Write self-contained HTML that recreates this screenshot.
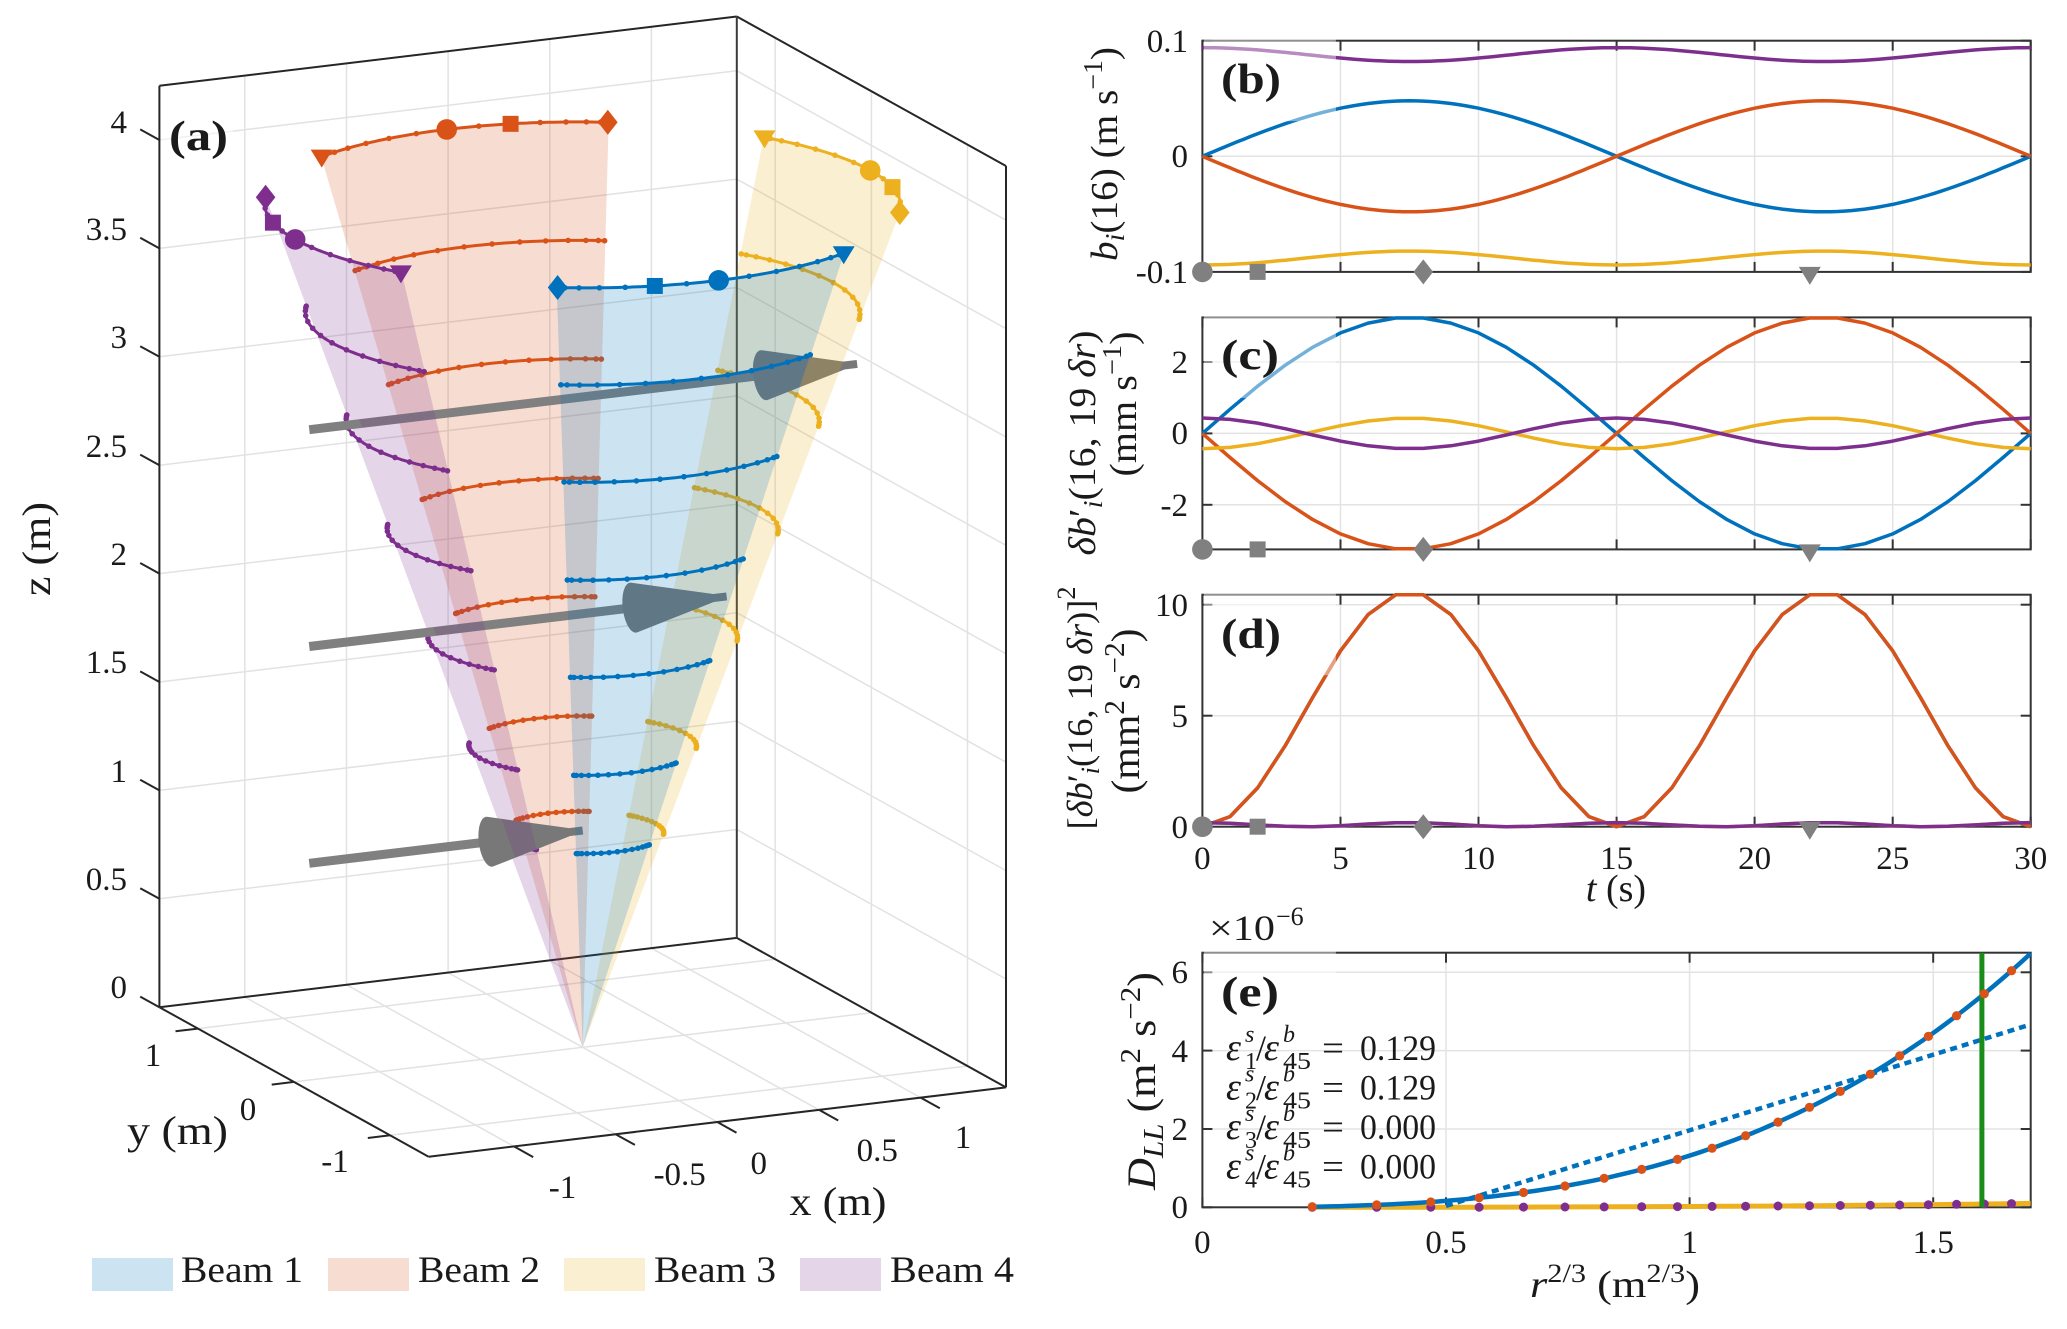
<!DOCTYPE html>
<html><head><meta charset="utf-8">
<style>
html,body{margin:0;padding:0;background:#fff;}
svg{display:block;}
text{font-family:"Liberation Serif",serif;fill:#1a1a1a;}
.tk{font-size:33px;}
.lb{font-size:40px;}
.pl{font-size:42px;font-weight:bold;}
</style></head>
<body>
<svg id="s" xmlns="http://www.w3.org/2000/svg" width="2067" height="1329" viewBox="0 0 2067 1329">
<rect width="2067" height="1329" fill="#fff"/>
<g id="ga"></g>
<g id="gp"></g>
<g id="gt">
<rect x="161" y="87" width="72" height="90" fill="#fff" fill-opacity="0.5"/>
<text class="pl" x="169" y="150" textLength="59" lengthAdjust="spacingAndGlyphs">(a)</text>
<text class="tk" x="127" y="133" text-anchor="end">4</text>
<text class="tk" x="127" y="240" text-anchor="end">3.5</text>
<text class="tk" x="127" y="348" text-anchor="end">3</text>
<text class="tk" x="127" y="457" text-anchor="end">2.5</text>
<text class="tk" x="127" y="565" text-anchor="end">2</text>
<text class="tk" x="127" y="673" text-anchor="end">1.5</text>
<text class="tk" x="127" y="782" text-anchor="end">1</text>
<text class="tk" x="127" y="890" text-anchor="end">0.5</text>
<text class="tk" x="127" y="998" text-anchor="end">0</text>
<text class="lb" transform="translate(37,549) rotate(-90)" y="13" text-anchor="middle" textLength="94" lengthAdjust="spacingAndGlyphs">z (m)</text>
<text class="tk" x="153" y="1066" text-anchor="middle">1</text>
<text class="tk" x="248" y="1120" text-anchor="middle">0</text>
<text class="tk" x="335" y="1172" text-anchor="middle">-1</text>
<text class="lb" x="177.5" y="1144" text-anchor="middle" textLength="101" lengthAdjust="spacingAndGlyphs">y (m)</text>
<text class="tk" x="562.5" y="1198" text-anchor="middle">-1</text>
<text class="tk" x="679.7" y="1185" text-anchor="middle">-0.5</text>
<text class="tk" x="758.8" y="1174" text-anchor="middle">0</text>
<text class="tk" x="877.3" y="1161" text-anchor="middle">0.5</text>
<text class="tk" x="963" y="1148" text-anchor="middle">1</text>
<text class="lb" x="838" y="1215" text-anchor="middle" textLength="97" lengthAdjust="spacingAndGlyphs">x (m)</text>
<rect x="92" y="1258" width="81" height="33" fill="#cce3f2"/>
<text x="181" y="1282" font-size="37" textLength="122" lengthAdjust="spacingAndGlyphs">Beam 1</text>
<rect x="328" y="1258" width="81" height="33" fill="#f7ddd1"/>
<text x="418" y="1282" font-size="37" textLength="122" lengthAdjust="spacingAndGlyphs">Beam 2</text>
<rect x="564" y="1258" width="81" height="33" fill="#fbefd2"/>
<text x="654" y="1282" font-size="37" textLength="122" lengthAdjust="spacingAndGlyphs">Beam 3</text>
<rect x="800" y="1258" width="81" height="33" fill="#e5d5e8"/>
<text x="890" y="1282" font-size="37" textLength="124" lengthAdjust="spacingAndGlyphs">Beam 4</text>

<text class="tk" x="1188" y="52" text-anchor="end">0.1</text>
<text class="tk" x="1188" y="167" text-anchor="end">0</text>
<text class="tk" x="1188" y="283" text-anchor="end">-0.1</text>
<text font-size="38" transform="translate(1105,154) rotate(-90)" y="12" text-anchor="middle" textLength="214" lengthAdjust="spacingAndGlyphs"><tspan font-style="italic">b</tspan><tspan font-style="italic" font-size="27" dy="7">i</tspan><tspan dy="-7">(16) (m s</tspan><tspan font-size="27" dy="-15">−1</tspan><tspan dy="15">)</tspan></text>

<text class="tk" x="1188" y="373" text-anchor="end">2</text>
<text class="tk" x="1188" y="444" text-anchor="end">0</text>
<text class="tk" x="1188" y="516" text-anchor="end">-2</text>
<text font-size="38" transform="translate(1083,443) rotate(-90)" y="12" text-anchor="middle" textLength="225" lengthAdjust="spacingAndGlyphs"><tspan font-style="italic">δb</tspan><tspan>′</tspan><tspan font-style="italic" font-size="27" dy="7">i</tspan><tspan dy="-7">(16, 19 </tspan><tspan font-style="italic">δr</tspan><tspan>)</tspan></text>
<text font-size="38" transform="translate(1124,404) rotate(-90)" y="12" text-anchor="middle" textLength="145" lengthAdjust="spacingAndGlyphs">(mm s<tspan font-size="27" dy="-15">−1</tspan><tspan dy="15">)</tspan></text>

<text class="tk" x="1188" y="616" text-anchor="end">10</text>
<text class="tk" x="1188" y="727" text-anchor="end">5</text>
<text class="tk" x="1188" y="838" text-anchor="end">0</text>
<text font-size="36" transform="translate(1080,708) rotate(-90)" y="12" text-anchor="middle" textLength="243" lengthAdjust="spacingAndGlyphs"><tspan>[</tspan><tspan font-style="italic">δb</tspan><tspan>′</tspan><tspan font-style="italic" font-size="26" dy="7">i</tspan><tspan dy="-7">(16, 19 </tspan><tspan font-style="italic">δr</tspan><tspan>)]</tspan><tspan font-size="26" dy="-17">2</tspan></text>
<text font-size="40" transform="translate(1127,711) rotate(-90)" y="12" text-anchor="middle" textLength="165" lengthAdjust="spacingAndGlyphs">(mm<tspan font-size="28" dy="-15">2</tspan><tspan dy="15"> s</tspan><tspan font-size="28" dy="-15">−2</tspan><tspan dy="15">)</tspan></text>
<text class="tk" x="1202.4" y="869" text-anchor="middle">0</text>
<text class="tk" x="1340.5" y="869" text-anchor="middle">5</text>
<text class="tk" x="1478.5" y="869" text-anchor="middle">10</text>
<text class="tk" x="1616.6" y="869" text-anchor="middle">15</text>
<text class="tk" x="1754.6" y="869" text-anchor="middle">20</text>
<text class="tk" x="1892.7" y="869" text-anchor="middle">25</text>
<text class="tk" x="2030.7" y="869" text-anchor="middle">30</text>
<text x="1616" y="901" font-size="38" text-anchor="middle"><tspan font-style="italic">t</tspan> (s)</text>

<text x="1209" y="940" font-size="36" textLength="66" lengthAdjust="spacingAndGlyphs">×10</text>
<text x="1276" y="925" font-size="26">−6</text>
<text class="tk" x="1188" y="983" text-anchor="end">6</text>
<text class="tk" x="1188" y="1062" text-anchor="end">4</text>
<text class="tk" x="1188" y="1140" text-anchor="end">2</text>
<text class="tk" x="1188" y="1218" text-anchor="end">0</text>
<text class="tk" x="1202.4" y="1253" text-anchor="middle">0</text>
<text class="tk" x="1446" y="1253" text-anchor="middle">0.5</text>
<text class="tk" x="1689.6" y="1253" text-anchor="middle">1</text>
<text class="tk" x="1933.2" y="1253" text-anchor="middle">1.5</text>
<text x="1530" y="1297" font-size="38" textLength="170" lengthAdjust="spacingAndGlyphs"><tspan font-style="italic">r</tspan><tspan font-size="26" dy="-15">2/3</tspan><tspan dy="15"> (m</tspan><tspan font-size="26" dy="-15">2/3</tspan><tspan dy="15">)</tspan></text>
<text font-size="40" transform="translate(1142,1081) rotate(-90)" y="13" text-anchor="middle" textLength="218" lengthAdjust="spacingAndGlyphs"><tspan font-style="italic">D</tspan><tspan font-style="italic" font-size="28" dy="8">LL</tspan><tspan dy="-8"> (m</tspan><tspan font-size="28" dy="-15">2</tspan><tspan dy="15"> s</tspan><tspan font-size="28" dy="-15">−2</tspan><tspan dy="15">)</tspan></text>

<g font-size="36">
<text x="1226" y="1060" font-style="italic" font-size="38">ε</text><text x="1245" y="1042" font-size="24" font-style="italic">s</text><text x="1245" y="1069" font-size="24">1</text><text x="1256" y="1060">/</text><text x="1264" y="1060" font-style="italic" font-size="38">ε</text><text x="1283" y="1042" font-size="24" font-style="italic">b</text><text x="1283" y="1069" font-size="24" textLength="28" lengthAdjust="spacingAndGlyphs">45</text><text x="1322" y="1060" textLength="22" lengthAdjust="spacingAndGlyphs">=</text><text x="1360" y="1060" textLength="76" lengthAdjust="spacingAndGlyphs">0.129</text>
<text x="1226" y="1099.5" font-style="italic" font-size="38">ε</text><text x="1245" y="1081.5" font-size="24" font-style="italic">s</text><text x="1245" y="1108.5" font-size="24">2</text><text x="1256" y="1099.5">/</text><text x="1264" y="1099.5" font-style="italic" font-size="38">ε</text><text x="1283" y="1081.5" font-size="24" font-style="italic">b</text><text x="1283" y="1108.5" font-size="24" textLength="28" lengthAdjust="spacingAndGlyphs">45</text><text x="1322" y="1099.5" textLength="22" lengthAdjust="spacingAndGlyphs">=</text><text x="1360" y="1099.5" textLength="76" lengthAdjust="spacingAndGlyphs">0.129</text>
<text x="1226" y="1139" font-style="italic" font-size="38">ε</text><text x="1245" y="1121" font-size="24" font-style="italic">s</text><text x="1245" y="1148" font-size="24">3</text><text x="1256" y="1139">/</text><text x="1264" y="1139" font-style="italic" font-size="38">ε</text><text x="1283" y="1121" font-size="24" font-style="italic">b</text><text x="1283" y="1148" font-size="24" textLength="28" lengthAdjust="spacingAndGlyphs">45</text><text x="1322" y="1139" textLength="22" lengthAdjust="spacingAndGlyphs">=</text><text x="1360" y="1139" textLength="76" lengthAdjust="spacingAndGlyphs">0.000</text>
<text x="1226" y="1178.5" font-style="italic" font-size="38">ε</text><text x="1245" y="1160.5" font-size="24" font-style="italic">s</text><text x="1245" y="1187.5" font-size="24">4</text><text x="1256" y="1178.5">/</text><text x="1264" y="1178.5" font-style="italic" font-size="38">ε</text><text x="1283" y="1160.5" font-size="24" font-style="italic">b</text><text x="1283" y="1187.5" font-size="24" textLength="28" lengthAdjust="spacingAndGlyphs">45</text><text x="1322" y="1178.5" textLength="22" lengthAdjust="spacingAndGlyphs">=</text><text x="1360" y="1178.5" textLength="76" lengthAdjust="spacingAndGlyphs">0.000</text>
</g>
</g>
<g id="glab">
<text class="pl" x="1221" y="93" textLength="60" lengthAdjust="spacingAndGlyphs">(b)</text>
<text class="pl" x="1221" y="369" textLength="58" lengthAdjust="spacingAndGlyphs">(c)</text>
<text class="pl" x="1221" y="648" textLength="60" lengthAdjust="spacingAndGlyphs">(d)</text>
<text class="pl" x="1221" y="1006" textLength="58" lengthAdjust="spacingAndGlyphs">(e)</text>
</g>
</svg>
<script>
(function(){
const NS='http://www.w3.org/2000/svg';
function el(p,tag,a){const e=document.createElementNS(NS,tag);for(const k in a)e.setAttribute(k,a[k]);p.appendChild(e);return e;}
function pts(arr){return arr.map(p=>p[0].toFixed(1)+','+p[1].toFixed(1)).join(' ');}
function L(g,a,b,c,w){return el(g,'line',{x1:a[0].toFixed(1),y1:a[1].toFixed(1),x2:b[0].toFixed(1),y2:b[1].toFixed(1),stroke:c,'stroke-width':w});}
function PL(g,arr,a){a.points=pts(arr);a.fill=a.fill||'none';return el(g,'polyline',a);}
function PG(g,arr,a){a.points=pts(arr);return el(g,'polygon',a);}
function hull(P0){const p=P0.slice().sort((a,b)=>a[0]-b[0]||a[1]-b[1]);const cr=(o,a,b)=>(a[0]-o[0])*(b[1]-o[1])-(a[1]-o[1])*(b[0]-o[0]);const lo=[];for(const q of p){while(lo.length>=2&&cr(lo[lo.length-2],lo[lo.length-1],q)<=0)lo.pop();lo.push(q);}const up=[];for(let i=p.length-1;i>=0;i--){const q=p[i];while(up.length>=2&&cr(up[up.length-2],up[up.length-1],q)<=0)up.pop();up.push(q);}up.pop();lo.pop();return lo.concat(up);}
function marker(g,type,x,y,c){
  if(type==='o')el(g,'circle',{cx:x,cy:y,r:10.3,fill:c});
  else if(type==='s')el(g,'rect',{x:x-8,y:y-8,width:16,height:16,fill:c});
  else if(type==='d')PG(g,[[x,y-12.5],[x+9.8,y],[x,y+12.5],[x-9.8,y]],{fill:c});
  else if(type==='v')PG(g,[[x-11,y-7],[x+11,y-7],[x,y+11]],{fill:c});
}
const cols=['#0072BD','#D95319','#EDB120','#7E2F8E'];

const gA=document.getElementById('ga');
const O=[582.7,1047.3],EX=[203.3,-24.4],EY=[-96.14,-53.36],EZ=[0,-216.8];
function P(x,y,z){return [O[0]+x*EX[0]+y*EY[0]+z*EZ[0],O[1]+x*EX[1]+y*EY[1]+z*EZ[1]];}
const XM=1.42,YM=1.4,ZM=4.25;
const gc='#e2e2e2';
for(let k=1;k<=8;k++){const z=k*0.5;L(gA,P(-XM,YM,z),P(XM,YM,z),gc,1.5);L(gA,P(XM,YM,z),P(XM,-YM,z),gc,1.5);}
for(const x of [-1,-0.5,0,0.5,1]){L(gA,P(x,YM,0),P(x,YM,ZM),gc,1.5);L(gA,P(x,-YM,0),P(x,YM,0),gc,1.5);}
for(const y of [-1,0,1]){L(gA,P(XM,y,0),P(XM,y,ZM),gc,1.5);L(gA,P(-XM,y,0),P(XM,y,0),gc,1.5);}
const bk='#262626';
[[P(-XM,YM,0),P(-XM,YM,ZM)],[P(XM,-YM,0),P(XM,-YM,ZM)],
 [P(-XM,YM,ZM),P(XM,YM,ZM)],[P(XM,YM,ZM),P(XM,-YM,ZM)],
 [P(-XM,YM,0),P(XM,YM,0)],[P(XM,YM,0),P(XM,-YM,0)],[P(XM,-YM,0),P(-XM,-YM,0)],[P(-XM,-YM,0),P(-XM,YM,0)]].forEach(s=>L(gA,s[0],s[1],bk,2));
L(gA,P(XM,YM,0),P(XM,YM,ZM),'#3a3a3a',2);
for(let k=0;k<=8;k++){const z=k*0.5;L(gA,P(-XM,YM,z),P(-XM,YM+0.2,z),bk,2);}
for(const x of [-1,-0.5,0,0.5,1])L(gA,P(x,-YM,0),P(x,-YM-0.2,0),bk,2);
for(const y of [-1,0,1])L(gA,P(-XM,y,0),P(-XM-0.11,y,0),bk,2);

const th=20*Math.PI/180,R=4.135,phi0=[-90,90,0,180];
const F=[1,0.872,0.744,0.615,0.487,0.358,0.255];
function psi(t){return -30*Math.sin(2*Math.PI*t/30);}
function tip(i,ps,f){const az=(phi0[i]+ps)*Math.PI/180;const r=R*f;return P(r*Math.sin(th)*Math.cos(az),r*Math.sin(th)*Math.sin(az),r*Math.cos(th));}
function fan(i,p0,p1){const a=[P(0,0,0)];for(let k=0;k<=60;k++)a.push(tip(i,p0+(p1-p0)*k/60,1));PG(gA,a,{fill:cols[i],'fill-opacity':0.2});}
function arcs(i){
  for(const f of F){const a=[];for(let k=0;k<=60;k++)a.push(tip(i,-30+k,f));
    PL(gA,a,{stroke:cols[i],'stroke-width':3,'stroke-linejoin':'round','stroke-linecap':'round'});
    for(let t=0;t<=30;t++){const p=tip(i,psi(t),f);el(gA,'circle',{cx:p[0].toFixed(1),cy:p[1].toFixed(1),r:2.7,fill:cols[i]});}}
  const mk=[['o',0],['s',2],['d',8],['v',22]];
  for(const m of mk){const p=tip(i,psi(m[1]),1);marker(gA,m[0],p[0],p[1],cols[i]);}
}
function arrow(z,xtip){
  const xt=-1.345,base=xtip-0.46;
  const a=P(xt,0,z),b=P(base+0.03,0,z);
  el(gA,'line',{x1:a[0],y1:a[1],x2:b[0],y2:b[1],stroke:'#808080','stroke-width':9});
  const pp=[];for(let k=0;k<48;k++){const an=2*Math.PI*k/48;pp.push(P(base,0.112*Math.cos(an),z+0.112*Math.sin(an)));pp.push(P(xtip-0.07,0.019*Math.cos(an),z+0.019*Math.sin(an)));}
  PG(gA,hull(pp),{fill:'#787878'});
  const s1=P(xtip-0.09,0,z),s2=P(xtip,0,z);
  el(gA,'line',{x1:s1[0],y1:s1[1],x2:s2[0],y2:s2[1],stroke:'#787878','stroke-width':8});
}
fan(1,-30,30);
fan(3,-30,0);
fan(2,0,30);
arcs(1);arcs(3);arcs(2);
arrow(3,1.35);arrow(2,0.708);arrow(1,0.0);
fan(3,0,30);
fan(2,-30,0);
fan(0,-30,30);
arcs(0);

const gP=document.getElementById('gp');
const X0=1202.4,X1=2030.7;
const Xt=t=>X0+t*(X1-X0)/30;
const gridc='#e3e3e3',ax='#333';
function frame(y0,y1,xt,yt){
  xt.forEach(x=>{if(x>X0+2&&x<X1-2)L(gP,[x,y0],[x,y1],gridc,1.5);});
  yt.forEach(y=>{if(y>y0+2&&y<y1-2)L(gP,[X0,y],[X1,y],gridc,1.5);});
  el(gP,'rect',{x:X0,y:y0,width:X1-X0,height:y1-y0,fill:'none',stroke:ax,'stroke-width':2});
  xt.forEach(x=>{L(gP,[x,y1],[x,y1-10],ax,2);L(gP,[x,y0],[x,y0+10],ax,2);});
  yt.forEach(y=>{L(gP,[X0,y],[X0+10,y],ax,2);L(gP,[X1,y],[X1-10,y],ax,2);});
}
function series(fn,Y,t0,t1,dt,c,w){const a=[];for(let t=t0;t<=t1+1e-9;t+=dt)a.push([Xt(t),Y(fn(t))]);PL(gP,a,{stroke:c,'stroke-width':w,'stroke-linejoin':'round'});}
function bottomMarkers(y){marker(gP,'o',Xt(0),y,'#808080');marker(gP,'s',Xt(2),y,'#808080');marker(gP,'d',Xt(8),y,'#808080');marker(gP,'v',Xt(22),y+2,'#808080');}
function labbox(y0){el(gP,'rect',{x:X0+1.5,y:y0-1.5,width:132,height:82,fill:'#fff','fill-opacity':0.45});}
const xt6=[0,5,10,15,20,25,30].map(Xt);
const S=t=>Math.sin(2*Math.PI*t/30), C2=t=>Math.cos(2*Math.PI*t/15);
const Yb=v=>156.3-v*1156;
frame(40.7,271.9,xt6,[Yb(-0.1),Yb(0),Yb(0.1)]);
series(t=>0.048*S(t),Yb,0,30,0.25,cols[0],3.5);
series(t=>-0.048*S(t),Yb,0,30,0.25,cols[1],3.5);
series(t=>-(0.088+0.006*C2(t)),Yb,0,30,0.25,cols[2],3.5);
series(t=>0.088+0.006*C2(t),Yb,0,30,0.25,cols[3],3.5);
bottomMarkers(271.9);labbox(40.7);
const Yc=v=>433.4-v*35.7;
frame(317.4,549.4,xt6,[Yc(-2),Yc(0),Yc(2)]);
series(t=>3.25*S(t),Yc,0,30,1,cols[0],3.5);
series(t=>-3.25*S(t),Yc,0,30,1,cols[1],3.5);
series(t=>-0.43*C2(t),Yc,0,30,1,cols[2],3.5);
series(t=>0.43*C2(t),Yc,0,30,1,cols[3],3.5);
bottomMarkers(549.4);labbox(317.4);
const Yd=v=>826.7-v*22.2;
frame(594.7,826.7,xt6,[Yd(0),Yd(5),Yd(10)]);
series(t=>Math.pow(3.25*S(t),2),Yd,0,30,1,cols[0],3.5);
series(t=>Math.pow(3.25*S(t),2),Yd,0,30,1,cols[1],3.5);
series(t=>Math.pow(0.43*C2(t),2),Yd,0,30,1,cols[2],3.5);
series(t=>Math.pow(0.43*C2(t),2),Yd,0,30,1,cols[3],3.5);
bottomMarkers(826.7);labbox(594.7);
const Xe=v=>X0+v*487.2, Ye=v=>1207.3-v*39.17;
frame(952.7,1207.3,[0,0.5,1,1.5].map(Xe),[0,2,4,6].map(Ye));
const xs=[];for(let n=1;n<=20;n++)xs.push(0.2254*Math.pow(n,2/3));
const yel=X=>0.1*Math.pow(X/1.7,3);
{const a=[];for(let k=0;k<=60;k++){const X=xs[0]+(1.7-xs[0])*k/60;a.push([Xe(X),Ye(yel(X))]);}PL(gP,a,{stroke:cols[2],'stroke-width':5});}
xs.forEach(X=>el(gP,'circle',{cx:Xe(X).toFixed(1),cy:Ye(yel(X)).toFixed(1),r:4.5,fill:cols[3]}));
{const a=[];for(let k=0;k<=80;k++){const X=xs[0]+(1.7-xs[0])*k/80;a.push([Xe(X),Ye(0.0151*Math.pow(X/0.2254,3))]);}PL(gP,a,{stroke:cols[0],'stroke-width':4.5});}
{const a=[[Xe(0.5),Ye(3.86*(0.5-0.491))],[Xe(1.7),Ye(3.86*(1.7-0.491))]];PL(gP,a,{stroke:cols[0],'stroke-width':4.5,'stroke-dasharray':'7 5'});}
L(gP,[Xe(1.6),952.7],[Xe(1.6),1207.3],'#1a8c1a',5);
xs.forEach((X,i)=>{const n=i+1;el(gP,'circle',{cx:Xe(X).toFixed(1),cy:Ye(0.0151*n*n).toFixed(1),r:4.6,fill:cols[1]});});
labbox(952.7);
})();
</script>
</body></html>
